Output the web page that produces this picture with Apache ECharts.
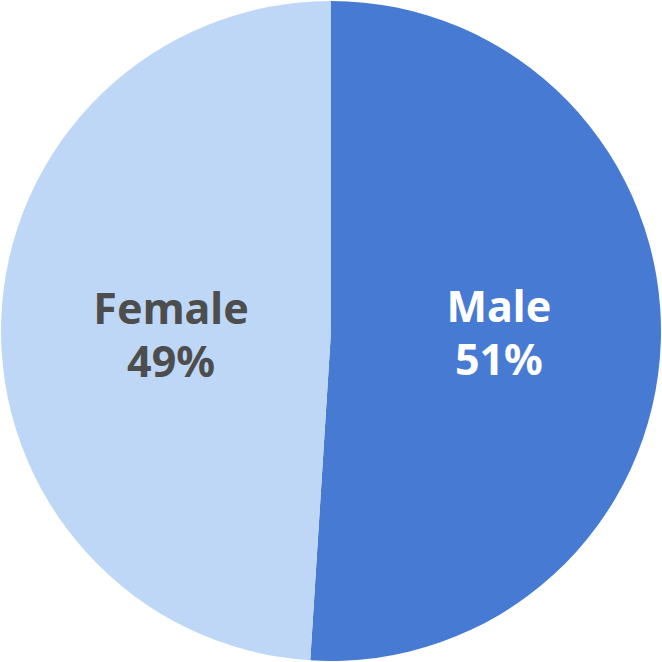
<!DOCTYPE html>
<html>
<head>
<meta charset="utf-8">
<script src="https://cdn.jsdelivr.net/npm/echarts@6/dist/echarts.min.js"></script>
<style>
  html, body { margin: 0; padding: 0; background: #fff; }
  #chart { width: 662px; height: 662px; }
</style>
</head>
<body>
<div id="chart"></div>
<script>
var categories = ['Male', 'Female'];
var values = [51, 49];
var colors = ['#477bd3', '#bfd7f6'];
var labelColors = ['#ffffff', '#4d4d4d'];
var labelOffsets = [[0, -4], [8, 8]];

(function() {
  var el = document.getElementById('chart');
  var chart = echarts.init(el, null, { renderer: 'svg' });
  var data = categories.map(function(name, i) {
    return {
      name: name,
      value: values[i],
      itemStyle: { color: colors[i] },
      label: { color: labelColors[i], offset: labelOffsets[i] }
    };
  });
  chart.setOption({
    animation: false,
    series: [{
      type: 'pie',
      center: ['50%', '50%'],
      radius: [0, 330],
      startAngle: 90,
      clockwise: true,
      data: data,
      itemStyle: { borderWidth: 0 },
      emphasis: { disabled: true },
      label: {
        show: true,
        position: 'inside',
        formatter: '{b}\n{c}%',
        fontFamily: 'Noto Sans',
        fontWeight: 'bold',
        fontSize: 43,
        lineHeight: 53
      },
      labelLine: { show: false }
    }]
  });
  window.addEventListener('resize', function() { chart.resize(); });
})();
</script>
</body>
</html>
